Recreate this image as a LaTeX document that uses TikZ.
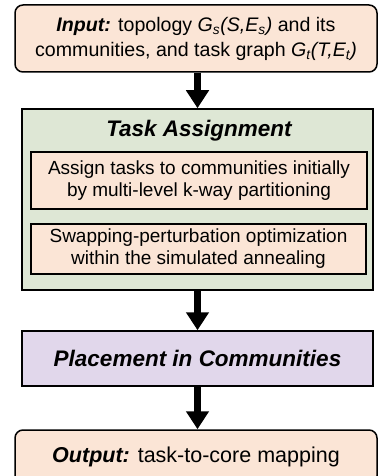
\documentclass[tikz,border=0pt]{standalone}
\usepackage{fontspec}
\setmainfont{Liberation Sans}
\usetikzlibrary{arrows.meta}
\definecolor{peach}{HTML}{FBE5D6}
\definecolor{sage}{HTML}{DEE7D5}
\definecolor{lilac}{HTML}{E1D7EB}

\begin{document}
\begin{tikzpicture}[x=1pt, y=-1pt,
    txt/.style={font=\fontsize{19}{22}\selectfont, align=center, inner sep=0pt},
    big/.style={txt, font=\fontsize{19.6}{25}\selectfont},
    heading/.style={txt, font=\fontsize{22.5}{25}\selectfont\bfseries\itshape},
    io/.style={big, draw=black, line width=1.5pt, fill=peach, rounded corners=8pt},
    stage/.style={txt, draw=black, line width=1.5pt},
    sub/.style={txt, draw=black, line width=1.2pt, fill=peach},
    flow/.style={line width=7pt, -{Triangle[width=22pt, length=18pt]}}
]
    \useasboundingbox (0,0) rectangle (378,476);
    \node[io, minimum width=362pt, minimum height=67pt] (input) at (196,38.5)
        {\textbf{\textit{Input:}} topology \textit{G\textsubscript{s}(S,E\textsubscript{s})} and its\\
         communities, and task graph \textit{G\textsubscript{t}(T,E\textsubscript{t})}};
    \node[stage, fill=sage, minimum width=351pt, minimum height=181pt] (assign) at (197.5,199.5) {};
    \node[heading] (title) at (199,131) {Task Assignment};
    \node[sub, minimum width=336pt, minimum height=57pt] (part) at (199,180.5)
        {Assign tasks to communities initially\\ by multi-level k-way partitioning};
    \node[sub, minimum width=335pt, minimum height=50pt] (anneal) at (198.5,249)
        {Swapping-perturbation optimization\\ within the simulated annealing};
    \node[stage, heading, fill=lilac, minimum width=351pt, minimum height=55pt] (place) at (197.5,358.5)
        {Placement in Communities};
    \begin{scope}
        \clip (0,0) rectangle (378,476);
        \node[io, font=\fontsize{21.5}{25}\selectfont, minimum width=362pt, minimum height=54pt] (output) at (196,457)
            {\textbf{\textit{Output:}} task-to-core mapping};
    \end{scope}
    \draw[flow] (input.south -| assign.north) -- (assign.north);
    \draw[flow] (assign) -- (place);
    \draw[flow] (place.south) -- (place.south |- output.north);
\end{tikzpicture}
\end{document}
